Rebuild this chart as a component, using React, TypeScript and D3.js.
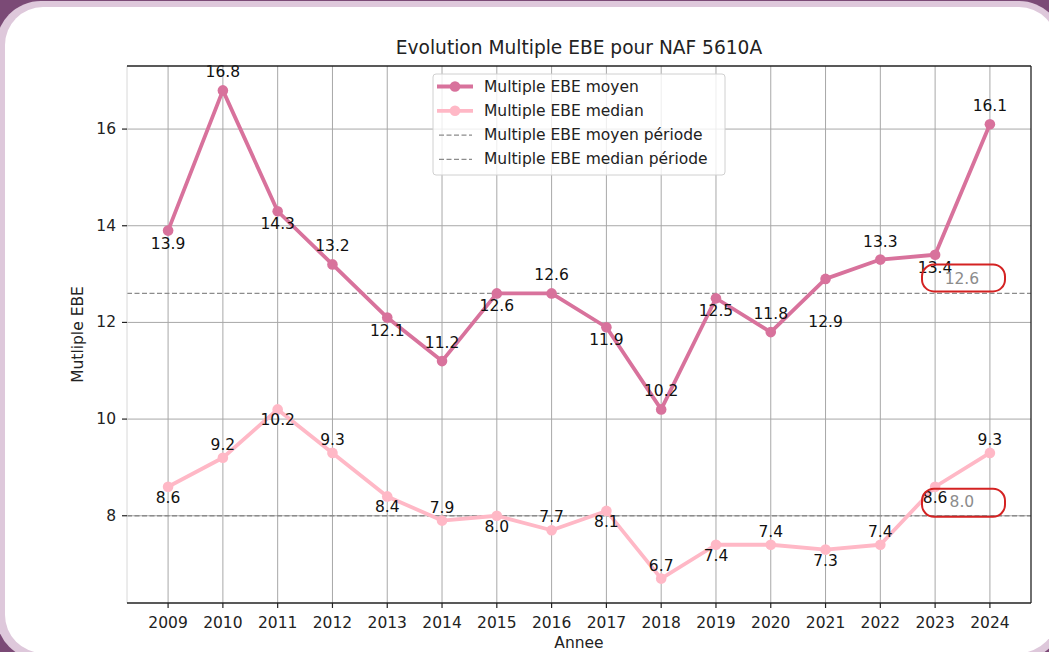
import React from "react";
import * as d3 from "d3";

const years = [2009, 2010, 2011, 2012, 2013, 2014, 2015, 2016, 2017, 2018, 2019, 2020, 2021, 2022, 2023, 2024];
const moyen = [13.9, 16.8, 14.3, 13.2, 12.1, 11.2, 12.6, 12.6, 11.9, 10.2, 12.5, 11.8, 12.9, 13.3, 13.4, 16.1];
const median = [8.6, 9.2, 10.2, 9.3, 8.4, 7.9, 8.0, 7.7, 8.1, 6.7, 7.4, 7.4, 7.3, 7.4, 8.6, 9.3];
const moyenPeriode = 12.6;
const medianPeriode = 8.0;
const yTicks = [8, 10, 12, 14, 16];
const legendLabels = [
  "Multiple EBE moyen",
  "Multiple EBE median",
  "Multiple EBE moyen période",
  "Multiple EBE median période",
];

const W = 1049;
const H = 652;
const M = { left: 127, right: 1031, top: 66, bottom: 603 };
const FONT = "DejaVu Sans, sans-serif";
const C_MOY = "#d8729c";
const C_MED = "#ffb8c6";
const FS = 15.5;

export default function App() {
  const x = d3.scaleLinear().domain([2008.25, 2024.75]).range([M.left, M.right]);
  const allV = [...moyen, ...median];
  const vmin = d3.min(allV)!;
  const vmax = d3.max(allV)!;
  const pad = (vmax - vmin) * 0.05;
  const y = d3.scaleLinear().domain([vmin - pad, vmax + pad]).range([M.bottom, M.top]);

  const line = d3.line<number>().x((_, i) => x(years[i])).y((v) => y(v));

  const moyOff = (i: number) => (i === 12 ? 43 : i % 2 === 0 ? 13 : -18);
  const medOff = (i: number) => (i % 2 === 0 ? 11 : -13);

  return (
    <svg width={W} height={H} style={{ position: "absolute", left: 0, top: 0, display: "block" }} fontFamily={FONT}>
      <rect x={0} y={0} width={W} height={H} fill="#7b4a76" />
      <rect x={-4} y={1} width={1068} height={659} rx={45} fill="#dec8db" />
      <rect x={5} y={7} width={1052} height={646} rx={38} fill="#ffffff" />

      {years.map((yr) => (
        <line key={"gx" + yr} x1={x(yr)} x2={x(yr)} y1={M.top} y2={M.bottom} stroke="#a8a8a8" strokeWidth={1} />
      ))}
      {yTicks.map((t) => (
        <line key={"gy" + t} x1={M.left} x2={M.right} y1={y(t)} y2={y(t)} stroke="#a8a8a8" strokeWidth={1} />
      ))}

      <line x1={M.left} x2={M.right} y1={y(moyenPeriode)} y2={y(moyenPeriode)} stroke="#8c8c8c" strokeWidth={1.3} strokeDasharray="5,2.5" />
      <line x1={M.left} x2={M.right} y1={y(medianPeriode)} y2={y(medianPeriode)} stroke="#8c8c8c" strokeWidth={1.3} strokeDasharray="5,2.5" />

      <path d={line(moyen) || ""} fill="none" stroke={C_MOY} strokeWidth={3.8} strokeLinejoin="round" />
      {moyen.map((v, i) => (
        <circle key={"pm" + i} cx={x(years[i])} cy={y(v)} r={5.3} fill={C_MOY} />
      ))}
      <path d={line(median) || ""} fill="none" stroke={C_MED} strokeWidth={3.8} strokeLinejoin="round" />
      {median.map((v, i) => (
        <circle key={"pd" + i} cx={x(years[i])} cy={y(v)} r={5.3} fill={C_MED} />
      ))}

      {moyen.map((v, i) => (
        <text key={"lm" + i} x={x(years[i])} y={y(v) + moyOff(i)} fontSize={FS} textAnchor="middle" dominantBaseline="central" fill="#111">
          {v.toFixed(1)}
        </text>
      ))}
      {median.map((v, i) => (
        <text key={"ld" + i} x={x(years[i])} y={y(v) + medOff(i)} fontSize={FS} textAnchor="middle" dominantBaseline="central" fill="#111">
          {v.toFixed(1)}
        </text>
      ))}

      <text x={x(2024) - 28} y={y(moyenPeriode) - 14} fontSize={FS} textAnchor="middle" dominantBaseline="central" fill="#8c8c8c">
        {moyenPeriode.toFixed(1)}
      </text>
      <text x={x(2024) - 28} y={y(medianPeriode) - 14} fontSize={FS} textAnchor="middle" dominantBaseline="central" fill="#8c8c8c">
        {medianPeriode.toFixed(1)}
      </text>
      <rect x={922} y={y(moyenPeriode) - 29} width={83} height={27} rx={12} fill="none" stroke="#d42222" strokeWidth={2} />
      <rect x={922} y={y(medianPeriode) - 27} width={83} height={28} rx={12} fill="none" stroke="#d42222" strokeWidth={2} />

      <line x1={M.left} x2={M.left} y1={M.top} y2={M.bottom} stroke="#d8d8d8" strokeWidth={1} />
      <line x1={M.right} x2={M.right} y1={M.top} y2={M.bottom} stroke="#222" strokeWidth={1.3} />
      <line x1={M.left} x2={M.right} y1={M.top} y2={M.top} stroke="#222" strokeWidth={1.3} />
      <line x1={M.left} x2={M.right} y1={M.bottom} y2={M.bottom} stroke="#222" strokeWidth={1.3} />

      {years.map((yr) => (
        <g key={"tx" + yr}>
          <line x1={x(yr)} x2={x(yr)} y1={M.bottom} y2={M.bottom + 5} stroke="#222" strokeWidth={1.2} />
          <text x={x(yr)} y={M.bottom + 20} fontSize={FS} textAnchor="middle" dominantBaseline="central" fill="#222">
            {yr}
          </text>
        </g>
      ))}
      {yTicks.map((t) => (
        <g key={"ty" + t}>
          <line x1={M.left - 5} x2={M.left} y1={y(t)} y2={y(t)} stroke="#222" strokeWidth={1.2} />
          <text x={M.left - 11} y={y(t)} fontSize={FS} textAnchor="end" dominantBaseline="central" fill="#222">
            {t}
          </text>
        </g>
      ))}

      <text x={(M.left + M.right) / 2} y={643} fontSize={FS} textAnchor="middle" dominantBaseline="central" fill="#222">
        Annee
      </text>
      <text transform={`translate(78, ${(M.top + M.bottom) / 2}) rotate(-90)`} fontSize={FS} textAnchor="middle" dominantBaseline="central" fill="#222">
        Mutliple EBE
      </text>
      <text x={(M.left + M.right) / 2} y={47} fontSize={18.6} textAnchor="middle" dominantBaseline="central" fill="#222">
        Evolution Multiple EBE pour NAF 5610A
      </text>

      <g>
        <rect x={433} y={74} width={292} height={101} rx={3} fill="rgba(255,255,255,0.8)" stroke="#d0d0d0" strokeWidth={1} />
        {legendLabels.map((lab, i) => {
          const ly = 86.5 + i * 24.3;
          return (
            <g key={"lg" + i}>
              {i < 2 ? (
                <>
                  <line x1={437} x2={473} y1={ly} y2={ly} stroke={i === 0 ? C_MOY : C_MED} strokeWidth={3.8} />
                  <circle cx={455} cy={ly} r={5.3} fill={i === 0 ? C_MOY : C_MED} />
                </>
              ) : (
                <line x1={439} x2={472} y1={ly} y2={ly} stroke="#8c8c8c" strokeWidth={1.3} strokeDasharray="5,2.5" />
              )}
              <text x={484} y={ly} fontSize={FS} dominantBaseline="central" fill="#222">
                {lab}
              </text>
            </g>
          );
        })}
      </g>
    </svg>
  );
}
